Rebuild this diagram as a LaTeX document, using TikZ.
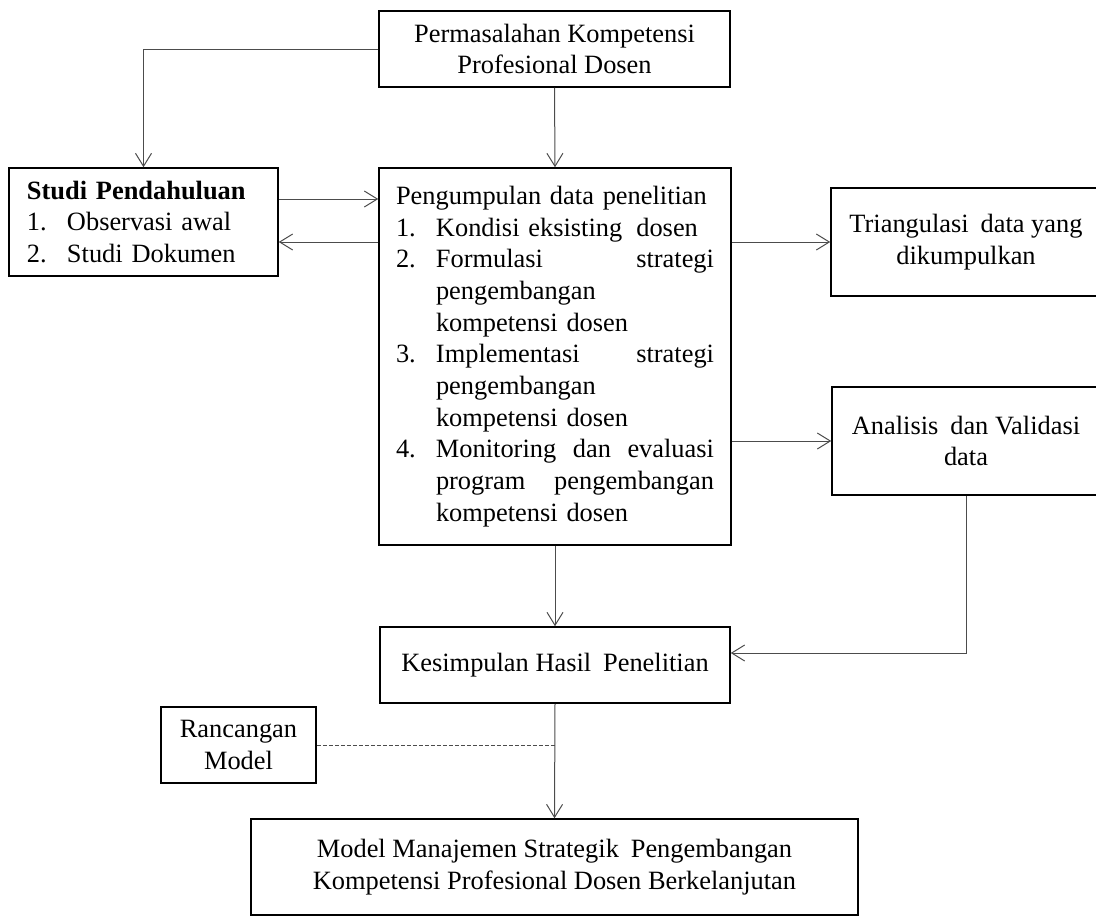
\documentclass[tikz,border=0pt]{standalone}
\usepackage{fontspec}
\setmainfont{Liberation Serif}
\usepackage{tikz}
\usetikzlibrary{positioning, arrows.meta}
\newcommand{\bodyfont}{\fontsize{26.4pt}{31.7pt}\selectfont}
\newcommand{\nline}[2]{\makebox[40pt][l]{#1}#2}
\newcommand{\jline}[1]{\makebox[278pt][l]{#1}}

\begin{document}
\begin{tikzpicture}[x=1pt, y=-1pt,
  box/.style={draw, line width=1.5pt, inner sep=0pt, align=center, font=\bodyfont},
  arr/.style={-{Straight Barb[length=13pt, width=16pt]}, draw=black!70, line width=1pt},
  link/.style={draw=black!70, line width=0.8pt, dash pattern=on 4pt off 2pt}]
\useasboundingbox (0,0) rectangle (1096,916);
\node[box, minimum width=351pt, minimum height=76pt] (masalah) at (554.5,49)
  {Permasalahan Kompetensi\\Profesional Dosen};
\node[box, minimum width=269pt, minimum height=108pt, text width=233pt, align=left] (studi) at (143.5,222)
  {\textbf{Studi Pendahuluan}\\\nline{1.}{Observasi awal}\\\nline{2.}{Studi Dokumen}};
\node[box, minimum width=352pt, minimum height=377pt, text width=318pt, align=left] (data) at (555,356.5)
  {Pengumpulan data penelitian\\
   \nline{1.}{Kondisi eksisting\hspace{0.2em}\ dosen}\\
   \nline{2.}{\jline{Formulasi\hfill strategi}}\\
   \nline{}{pengembangan}\\
   \nline{}{kompetensi dosen}\\
   \nline{3.}{\jline{Implementasi\hfill strategi}}\\
   \nline{}{pengembangan}\\
   \nline{}{kompetensi dosen}\\
   \nline{4.}{\jline{Monitoring\hfill dan\hfill evaluasi}}\\
   \nline{}{\jline{program\hfill pengembangan}}\\
   \nline{}{kompetensi dosen}};
\node[box, minimum width=270pt, minimum height=108pt] (triang) at (966,242)
  {Triangulasi\hspace{0.2em}\ data yang\\dikumpulkan};
\node[box, minimum width=268pt, minimum height=108pt] (analisis) at (966,441)
  {Analisis\hspace{0.2em}\ dan Validasi\\data};
\node[box, minimum width=350pt, minimum height=76pt] (simpulan) at (555,665)
  {Kesimpulan Hasil\hspace{0.2em}\ Penelitian};
\node[box, minimum width=155pt, minimum height=76pt] (rancangan) at (238.5,745)
  {Rancangan\\Model};
\node[box, minimum width=607pt, minimum height=96pt] (model) at (554.5,867)
  {Model Manajemen Strategik\hspace{0.2em}\ Pengembangan\\Kompetensi Profesional Dosen Berkelanjutan};

% connectors
\draw[arr] (masalah.west) -| (studi.north);
\draw[arr] (masalah.south) -- (data.north);
\draw[arr] ([yshift=23pt]studi.east) -- ([yshift=23pt]studi.east -| data.west);
\draw[arr] ([yshift=-20pt]studi.east -| data.west) -- ([yshift=-20pt]studi.east);
\draw[arr] (data.east |- triang.west) -- (triang.west);
\draw[arr] (data.east |- analisis.west) -- (analisis.west);
\draw[arr] (data.south) -- (simpulan.north);
\draw[arr] (analisis.south) |- ([yshift=12pt]simpulan.east);
\draw[arr] (simpulan.south) -- (model.north);
\draw[link] (rancangan.east) -- (rancangan.east -| simpulan.south);
\end{tikzpicture}
\end{document}
